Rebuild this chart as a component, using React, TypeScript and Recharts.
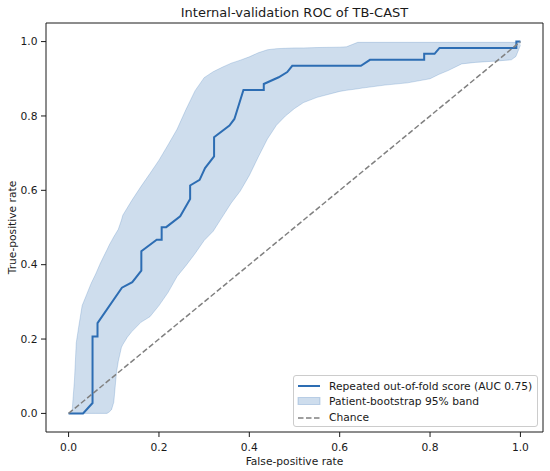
import React from 'react';
import { ComposedChart, Area, Line, XAxis, YAxis, Legend } from 'recharts';

// averaged out-of-fold ROC curve
const rocFpr = [
  0, 0.032, 0.053, 0.053, 0.064, 0.064, 0.118, 0.141, 0.161, 0.161,
  0.195, 0.206, 0.206, 0.216, 0.247, 0.269, 0.269, 0.29, 0.302, 0.322,
  0.322, 0.356, 0.367, 0.387, 0.432, 0.432, 0.465, 0.484, 0.495, 0.647,
  0.667, 0.787, 0.787, 0.81, 0.821, 0.991, 0.991, 1.0,
];
const rocTpr = [
  0, 0, 0.028, 0.207, 0.207, 0.243, 0.338, 0.353, 0.384, 0.436,
  0.467, 0.467, 0.501, 0.501, 0.53, 0.577, 0.613, 0.628, 0.66, 0.691,
  0.743, 0.774, 0.792, 0.87, 0.87, 0.886, 0.904, 0.918, 0.935, 0.935,
  0.951, 0.951, 0.967, 0.967, 0.983, 0.983, 1.0, 1.0,
];

// patient-bootstrap 95% band
const bandFpr = [
  0, 0.008, 0.013, 0.017, 0.022, 0.03, 0.04, 0.05, 0.06, 0.07,
  0.08, 0.085, 0.09, 0.095, 0.1, 0.103, 0.106, 0.11, 0.117, 0.12,
  0.13, 0.14, 0.16, 0.18, 0.2, 0.22, 0.24, 0.26, 0.28, 0.3,
  0.32, 0.34, 0.36, 0.38, 0.4, 0.42, 0.44, 0.46, 0.48, 0.5,
  0.52, 0.55, 0.6, 0.615, 0.64, 0.65, 0.7, 0.75, 0.8, 0.82,
  0.84, 0.87, 0.9, 0.95, 0.98, 0.99, 1.0,
];
const bandUpper = [
  0, 0.01, 0.09, 0.19, 0.23, 0.29, 0.32, 0.35, 0.375, 0.403,
  0.428, 0.44, 0.453, 0.464, 0.475, 0.481, 0.487, 0.495, 0.52, 0.533,
  0.553, 0.573, 0.61, 0.645, 0.681, 0.722, 0.764, 0.818, 0.868, 0.903,
  0.919, 0.931, 0.942, 0.95, 0.959, 0.97, 0.978, 0.981, 0.982, 0.983,
  0.983, 0.984, 0.985, 0.986, 0.998, 0.998, 0.998, 0.998, 0.998, 0.998,
  0.998, 0.998, 0.998, 0.998, 0.998, 0.998, 1.0,
];
const bandLower = [
  0, 0, 0, 0, 0, 0, 0, 0, 0, 0,
  0, 0, 0.004, 0.01, 0.03, 0.07, 0.11, 0.14, 0.178, 0.185,
  0.205, 0.22, 0.245, 0.26, 0.29, 0.325, 0.368, 0.398, 0.43, 0.465,
  0.49, 0.528, 0.566, 0.598, 0.64, 0.69, 0.738, 0.775, 0.8, 0.82,
  0.836, 0.85, 0.866, 0.869, 0.873, 0.875, 0.883, 0.889, 0.9, 0.912,
  0.922, 0.94, 0.944, 0.948, 0.951, 0.96, 0.99,
];

const chanceFpr = [0, 1];
const chanceTpr = [0, 1];

const axisTicks = [0, 0.2, 0.4, 0.6, 0.8, 1.0];
const legendLabels = [
  'Repeated out-of-fold score (AUC 0.75)',
  'Patient-bootstrap 95% band',
  'Chance',
];

const rocData = rocFpr.map((x, i) => ({ x, y: rocTpr[i] }));
const bandData = bandFpr.map((x, i) => ({ x, band: [bandLower[i], bandUpper[i]] }));
const chanceData = chanceFpr.map((x, i) => ({ x, y: chanceTpr[i] }));

const FONT = '"DejaVu Sans", sans-serif';
const INK = '#1a1a1a';
const BLUE = '#2d6db3';
const GREY = '#808080';
const FS = 10.7;

const tickStyle = { fontFamily: FONT, fontSize: FS, fill: INK };

const LegendBox = () => {
  const rowTops = [2, 17, 33.5];
  return (
    <div
      style={{
        position: 'relative',
        width: 245,
        height: 52,
        boxSizing: 'border-box',
        border: '1px solid #cccccc',
        borderRadius: 3,
        background: 'rgba(255,255,255,0.8)',
        fontFamily: FONT,
        fontSize: FS,
        color: INK,
      }}
    >
      {legendLabels.map((label, i) => (
        <div
          key={label}
          style={{ position: 'absolute', left: 3, top: rowTops[i], height: 16, display: 'flex', alignItems: 'center', whiteSpace: 'nowrap' }}
        >
          <svg width={24} height={16} style={{ marginRight: 8 }}>
            {i === 0 && <line x1={1} y1={8} x2={23} y2={8} stroke={BLUE} strokeWidth={2} />}
            {i === 1 && (
              <rect x={1} y={4.5} width={22} height={7} fill={BLUE} fillOpacity={0.23} stroke={BLUE} strokeOpacity={0.25} />
            )}
            {i === 2 && <line x1={1} y1={8} x2={23} y2={8} stroke={GREY} strokeWidth={1.5} strokeDasharray="5.5 2.5" />}
          </svg>
          <span>{label}</span>
        </div>
      ))}
    </div>
  );
};

export default function App() {
  return (
    <div style={{ position: 'absolute', left: 0, top: 0, background: '#fff' }}>
      <ComposedChart width={550} height={471} margin={{ top: 0, right: 0, bottom: 0, left: 0 }}>
        <XAxis
          xAxisId="bottom"
          dataKey="x"
          type="number"
          domain={[-0.05, 1.05]}
          ticks={axisTicks}
          tickFormatter={(v: number) => v.toFixed(1)}
          height={39}
          tickSize={5}
          tickMargin={6}
          tick={tickStyle}
          stroke={INK}
          label={{ value: 'False-positive rate', position: 'insideBottom', offset: 6, style: { fontFamily: FONT, fontSize: FS, fill: INK } }}
        />
        <XAxis
          xAxisId="top"
          orientation="top"
          dataKey="x"
          type="number"
          domain={[-0.05, 1.05]}
          height={23}
          tick={false}
          tickLine={false}
          stroke={INK}
          label={{ value: 'Internal-validation ROC of TB-CAST', position: 'insideTop', offset: 7.5, style: { fontFamily: FONT, fontSize: 13, fill: INK } }}
        />
        <YAxis
          yAxisId="left"
          type="number"
          domain={[-0.05, 1.05]}
          ticks={axisTicks}
          tickFormatter={(v: number) => v.toFixed(1)}
          width={46}
          tickSize={5}
          tickMargin={3.5}
          tick={tickStyle}
          stroke={INK}
          label={{ value: 'True-positive rate', angle: -90, position: 'insideLeft', offset: 12, style: { textAnchor: 'middle', fontFamily: FONT, fontSize: FS, fill: INK } }}
        />
        <YAxis yAxisId="right" orientation="right" type="number" domain={[-0.05, 1.05]} width={7} tick={false} tickLine={false} stroke={INK} />
        <Area
          xAxisId="bottom"
          yAxisId="left"
          data={bandData}
          dataKey="band"
          type="linear"
          fill={BLUE}
          fillOpacity={0.23}
          stroke={BLUE}
          strokeOpacity={0.22}
          strokeWidth={1}
          dot={false}
          activeDot={false}
          isAnimationActive={false}
        />
        <Line
          xAxisId="bottom"
          yAxisId="left"
          data={rocData}
          dataKey="y"
          type="linear"
          stroke={BLUE}
          strokeWidth={2}
          dot={false}
          activeDot={false}
          isAnimationActive={false}
        />
        <Line
          xAxisId="bottom"
          yAxisId="left"
          data={chanceData}
          dataKey="y"
          type="linear"
          stroke={GREY}
          strokeWidth={1.5}
          strokeDasharray="5.5 2.5"
          dot={false}
          activeDot={false}
          isAnimationActive={false}
        />
        <Legend
          layout="vertical"
          align="center"
          verticalAlign="middle"
          content={() => <LegendBox />}
          wrapperStyle={{ left: 293, top: 375, width: 245, height: 52 }}
        />
      </ComposedChart>
    </div>
  );
}
